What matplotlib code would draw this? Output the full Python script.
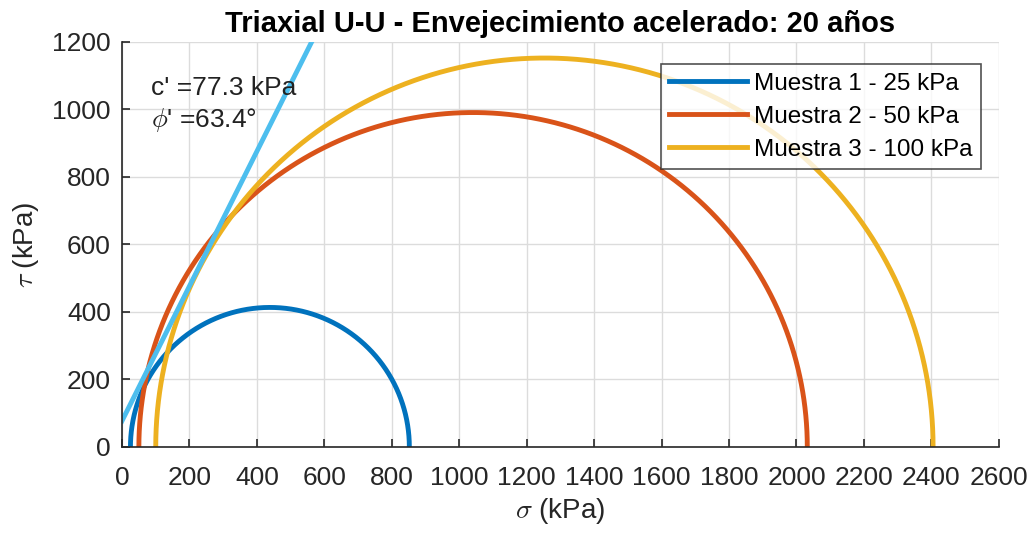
import numpy as np
import matplotlib
matplotlib.use("Agg")
import matplotlib.pyplot as plt

# Data
labels = ["Muestra 1 - 25 kPa", "Muestra 2 - 50 kPa", "Muestra 3 - 100 kPa"]
sigma3 = [25, 50, 100]
sigma1 = [852, 2032, 2405]
colors = ["#0072BD", "#D95319", "#EDB120"]
c_coh = 77.3
phi_deg = 63.4
env_color = "#4DBEEE"
xticks = list(range(0, 2601, 200))
yticks = list(range(0, 1201, 200))

plt.rcParams['font.family'] = ['Liberation Sans', 'DejaVu Sans']
plt.rcParams['mathtext.fontset'] = 'cm'

fig = plt.figure(figsize=(10.34, 5.35), dpi=100)
ax = fig.add_axes([0.118, 0.1645, 0.848, 0.757])

theta = np.linspace(0, np.pi, 400)
for s3, s1, col, lab in zip(sigma3, sigma1, colors, labels):
    cen = (s1 + s3) / 2
    r = (s1 - s3) / 2
    ax.plot(cen + r * np.cos(theta), r * np.sin(theta), color=col, lw=3.5, label=lab)

xs = np.array([0, 700])
ax.plot(xs, c_coh + np.tan(np.radians(phi_deg)) * xs, color=env_color, lw=3.5)

ax.text(85, 1065, "c' =77.3 kPa", fontsize=19, color="#222222", va='center')
ax.text(85, 970, r"$\phi$' =63.4°", fontsize=19, color="#222222", va='center')

ax.set_xlim(0, 2600)
ax.set_ylim(0, 1200)
ax.set_xticks(xticks)
ax.set_yticks(yticks)
ax.grid(True, color="#DCDCDC", lw=1)
ax.set_axisbelow(True)
for s in ["top", "right"]:
    ax.spines[s].set_visible(False)
for s in ["left", "bottom"]:
    ax.spines[s].set_color("#262626")
    ax.spines[s].set_linewidth(1.2)
ax.tick_params(direction='in', length=6, width=1.2, colors="#262626",
               labelsize=19)
ax.tick_params(axis='x', pad=14)
ax.tick_params(axis='y', pad=8)

ax.set_title("Triaxial U-U - Envejecimiento acelerado: 20 años",
             fontsize=21, fontweight='bold', pad=7)
ax.set_xlabel(r"$\sigma$ (kPa)", fontsize=20, color="#262626", labelpad=4)
ax.set_ylabel(r"$\tau$ (kPa)", fontsize=20, color="#262626", labelpad=8)

leg = ax.legend(loc='upper right', bbox_to_anchor=(0.98, 0.945), fontsize=17.5,
                frameon=True, fancybox=False, edgecolor="#262626",
                handlelength=3.2, handletextpad=0.3, borderpad=0.35,
                labelspacing=0.45, borderaxespad=0)
leg.get_frame().set_linewidth(1.2)

fig.savefig("out.png", dpi=100)
